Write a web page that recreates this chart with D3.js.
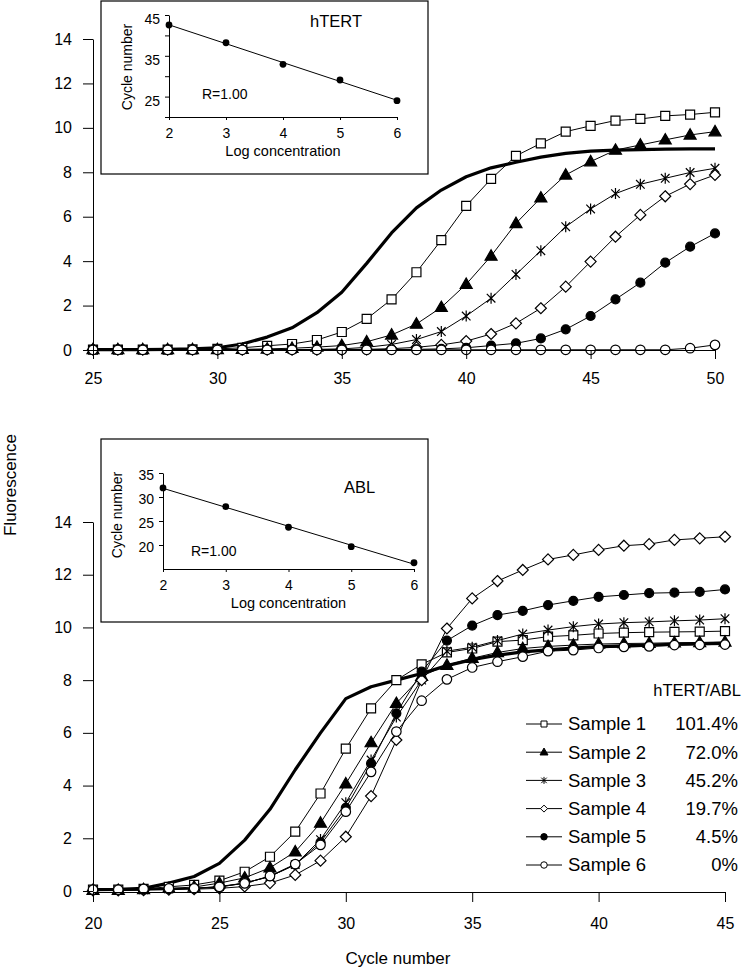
<!DOCTYPE html>
<html><head><meta charset="utf-8">
<script src="https://cdn.jsdelivr.net/npm/d3@7"></script>
<style>
body{margin:0;background:#fff}
svg{display:block}
text{font-family:"Liberation Sans",Arial,Helvetica,sans-serif;fill:#000}
</style>
</head><body>
<svg id="chart" width="744" height="969"></svg>
<script>
// ---------------- DATA ----------------
const topCycles = [25,26,27,28,29,30,31,32,33,34,35,36,37,38,39,40,41,42,43,44,45,46,47,48,49,50];
const botCycles = [20,21,22,23,24,25,26,27,28,29,30,31,32,33,34,35,36,37,38,39,40,41,42,43,44,45];

// hTERT panel
const hTERTcontrol = [0.02,0.02,0.02,0.03,0.05,0.1,0.27,0.58,1.0,1.68,2.6,3.9,5.27,6.4,7.2,7.8,8.2,8.45,8.68,8.85,8.95,9.0,9.02,9.04,9.05,9.05];
const hTERTs1 = [0.02,0.02,0.02,0.02,0.03,0.05,0.1,0.19,0.27,0.45,0.81,1.4,2.28,3.5,4.95,6.49,7.7,8.74,9.3,9.83,10.09,10.33,10.4,10.54,10.6,10.7];
const hTERTs2 = [0.02,0.02,0.02,0.02,0.02,0.02,0.03,0.05,0.08,0.13,0.2,0.37,0.68,1.17,1.92,2.96,4.23,5.7,6.85,7.88,8.48,9.0,9.23,9.46,9.68,9.83];
const hTERTs3 = [0.02,0.02,0.02,0.02,0.02,0.02,0.02,0.02,0.02,0.03,0.05,0.12,0.25,0.47,0.83,1.53,2.33,3.4,4.47,5.55,6.35,7.04,7.46,7.73,7.99,8.18];
const hTERTs4 = [0.02,0.02,0.02,0.02,0.02,0.02,0.02,0.02,0.02,0.02,0.02,0.03,0.06,0.12,0.23,0.4,0.72,1.2,1.88,2.85,3.98,5.1,6.08,6.92,7.47,7.88];
const hTERTs5 = [0.02,0.02,0.02,0.02,0.02,0.02,0.02,0.02,0.02,0.02,0.02,0.02,0.02,0.03,0.05,0.1,0.2,0.3,0.52,0.93,1.53,2.28,3.03,3.93,4.65,5.25];
const hTERTs6 = [0.01,0.01,0.01,0.01,0.01,0.01,0.01,0.01,0.01,0.01,0.01,0.01,0.01,0.01,0.01,0.01,0.01,0.01,0.01,0.01,0.01,0.01,0.01,0.01,0.08,0.23];

// ABL panel
const ABLcontrol = [0.05,0.06,0.1,0.3,0.55,1.05,1.93,3.1,4.6,6.0,7.3,7.75,8.0,8.25,8.55,8.78,8.95,9.07,9.15,9.22,9.27,9.3,9.33,9.36,9.38,9.4];
const ABLs1 = [0.05,0.05,0.08,0.16,0.23,0.39,0.73,1.3,2.25,3.7,5.4,6.93,8.0,8.6,9.05,9.2,9.46,9.52,9.65,9.7,9.77,9.8,9.82,9.83,9.84,9.86];
const ABLs2 = [0.03,0.03,0.06,0.1,0.15,0.3,0.5,0.88,1.49,2.58,4.07,5.63,7.12,8.15,8.57,8.83,9.05,9.2,9.28,9.33,9.37,9.39,9.4,9.42,9.43,9.45];
const ABLs3 = [0.03,0.03,0.05,0.07,0.1,0.17,0.3,0.55,1.0,1.95,3.35,4.97,6.6,8.0,9.1,9.25,9.5,9.75,9.9,10.03,10.13,10.18,10.21,10.25,10.28,10.33];
const ABLs4 = [0.02,0.02,0.03,0.05,0.07,0.1,0.17,0.3,0.61,1.15,2.06,3.6,5.73,8.0,9.96,11.1,11.76,12.18,12.58,12.75,12.94,13.1,13.16,13.32,13.38,13.44];
const ABLs5 = [0.03,0.03,0.05,0.07,0.1,0.15,0.3,0.55,1.0,1.85,3.15,4.84,6.74,8.32,9.5,10.07,10.47,10.63,10.85,11.01,11.16,11.23,11.3,11.32,11.35,11.44];
const ABLs6 = [0.05,0.05,0.08,0.1,0.1,0.16,0.29,0.57,1.02,1.75,3.01,4.52,6.05,7.22,8.03,8.48,8.7,8.89,9.1,9.14,9.22,9.26,9.28,9.33,9.34,9.35];

// Standard curves (insets)
const logConc = [2,3,4,5,6];
const hTERTct = [42.55,38.2,32.9,29.07,24.0];
const ABLct = [31.9,27.98,23.7,19.65,16.3];

// Ticks and labels
const fluorTicks = [0,2,4,6,8,10,12,14];
const topXTicks = [25,30,35,40,45,50];
const botXTicks = [20,25,30,35,40,45];
const insetTopYTicks = [20,25,30,35,40,45];
const insetTopYLabels = [25,35,45];
const insetBotYTicks = [20,25,30,35];
const sampleNames = ["Sample 1","Sample 2","Sample 3","Sample 4","Sample 5","Sample 6"];
const ratios = ["101.4%","72.0%","45.2%","19.7%","4.5%","0%"];

// ---------------- DRAWING ----------------
const svg = d3.select("#chart");
const markerTypes = ["square","triangle","asterisk","diamond","dot","circle"];
const markerFill = {square:"#fff",triangle:"#000",asterisk:"none",diamond:"#fff",dot:"#000",circle:"#fff"};
const markerSize = {square:9,triangle:12,asterisk:11,diamond:11,dot:9,circle:9.5};

function markerPath(type, s){
  const r = s/2;
  switch(type){
    case "square": return `M${-r},${-r}h${s}v${s}h${-s}Z`;
    case "triangle": { const h = s*Math.sqrt(3)/2; return `M0,${-h*0.6}L${r},${h*0.4}L${-r},${h*0.4}Z`; }
    case "asterisk": { const d = r*0.78; return `M0,${-r}V${r}M${-d},${-d}L${d},${d}M${-d},${d}L${d},${-d}`; }
    case "diamond": return `M0,${-r}L${r},0L0,${r}L${-r},0Z`;
    default: return `M${r},0A${r},${r} 0 1,1 ${-r},0A${r},${r} 0 1,1 ${r},0Z`;
  }
}

function drawPanel(cycles, control, samples, x, y){
  const g = svg.append("g");
  const line = d3.line().x((d,i)=>x(cycles[i])).y(d=>y(d));
  g.append("path").datum(control).attr("d", line)
    .attr("fill","none").attr("stroke","#000").attr("stroke-width",3.2).attr("stroke-linejoin","round");
  samples.forEach((vals, k) => {
    const t = markerTypes[k];
    g.append("path").datum(vals).attr("d", line)
      .attr("fill","none").attr("stroke","#000").attr("stroke-width",1);
    g.selectAll(null).data(vals).enter().append("path")
      .attr("transform",(d,i)=>`translate(${x(cycles[i])},${y(d)})`)
      .attr("d", markerPath(t, markerSize[t]))
      .attr("fill", markerFill[t]).attr("stroke","#000").attr("stroke-width",1.2);
  });
}

function styleAxis(sel, fontSize){
  sel.selectAll("path,line").attr("stroke","#000").attr("stroke-width",1);
  sel.selectAll("text").style("font-size",fontSize+"px").attr("fill","#000");
}

// ---------- Top panel (hTERT) ----------
const xTop = d3.scaleLinear().domain([25,50]).range([93,715]);
const yTop = d3.scaleLinear().domain([0,14]).range([350,39]);

drawPanel(topCycles, hTERTcontrol, [hTERTs1,hTERTs2,hTERTs3,hTERTs4,hTERTs5,hTERTs6], xTop, yTop);

const axTopY = svg.append("g").attr("transform","translate(93,0)")
  .call(d3.axisLeft(yTop).tickValues(fluorTicks).tickSize(10).tickSizeOuter(0).tickPadding(11));
styleAxis(axTopY, 16);
const axTopX = svg.append("g").attr("transform","translate(0,350)")
  .call(d3.axisBottom(xTop).tickValues(topXTicks).tickSize(9).tickSizeOuter(0));
styleAxis(axTopX, 16);
axTopX.selectAll("text").attr("y",28).attr("dy","0.35em");

// ---------- Bottom panel (ABL) ----------
const xBot = d3.scaleLinear().domain([20,45]).range([93,725]);
const yBot = d3.scaleLinear().domain([0,14]).range([891,522]);

drawPanel(botCycles, ABLcontrol, [ABLs1,ABLs2,ABLs3,ABLs4,ABLs5,ABLs6], xBot, yBot);

const axBotY = svg.append("g").attr("transform","translate(93,0)")
  .call(d3.axisLeft(yBot).tickValues(fluorTicks).tickSize(10).tickSizeOuter(0).tickPadding(11));
styleAxis(axBotY, 16);
const axBotX = svg.append("g").attr("transform","translate(0,892)")
  .call(d3.axisBottom(xBot).tickValues(botXTicks).tickSize(10).tickSizeOuter(0));
styleAxis(axBotX, 16);
axBotX.selectAll("text").attr("y",31).attr("dy","0.35em");

// Axis titles
svg.append("text").attr("transform","translate(10,485) rotate(-90)")
  .attr("text-anchor","middle").attr("dy","0.35em").style("font-size","17px").text("Fluorescence");
svg.append("text").attr("x",398).attr("y",958).attr("dy","0.35em")
  .attr("text-anchor","middle").style("font-size","17px").text("Cycle number");

// ---------- Insets ----------
function drawInset(opts){
  const g = svg.append("g");
  g.append("rect").attr("x",opts.box[0]).attr("y",opts.box[1])
    .attr("width",opts.box[2]-opts.box[0]).attr("height",opts.box[3]-opts.box[1])
    .attr("fill","#fff").attr("stroke","#000").attr("stroke-width",1.2);
  const x = d3.scaleLinear().domain([2,6]).range(opts.xr);
  const y = d3.scaleLinear().domain(opts.yd).range(opts.yr);
  const ay = g.append("g").attr("transform",`translate(${opts.xr[0]},0)`)
    .call(d3.axisLeft(y).tickValues(opts.yTicks).tickSize(4).tickSizeOuter(0).tickPadding(5)
      .tickFormat(d => opts.yLabels.includes(d) ? d : ""));
  styleAxis(ay, 14);
  ay.selectAll("text").attr("dy", opts.yLabelDy);
  const ax = g.append("g").attr("transform",`translate(0,${opts.yr[0]})`)
    .call(d3.axisBottom(x).tickValues(logConc).tickSize(3).tickSizeOuter(0).tickFormat(d3.format("d")));
  styleAxis(ax, 14);
  ax.selectAll("text").attr("y",16).attr("dy","0.35em");
  // regression line from data
  const mx = d3.mean(logConc), my = d3.mean(opts.vals);
  const slope = d3.sum(logConc,(v,i)=>(v-mx)*(opts.vals[i]-my)) / d3.sum(logConc,v=>(v-mx)*(v-mx));
  const fit = v => my + slope*(v-mx);
  g.append("line").attr("x1",x(2)).attr("y1",y(fit(2))).attr("x2",x(6)).attr("y2",y(fit(6)))
    .attr("stroke","#000").attr("stroke-width",1);
  g.selectAll(null).data(opts.vals).enter().append("circle")
    .attr("cx",(d,i)=>x(logConc[i])).attr("cy",d=>y(d)).attr("r",3.4).attr("fill","#000");
  g.append("text").attr("transform",`translate(${opts.ylabX},${(opts.yr[0]+opts.yr[1])/2 + opts.ylabShift}) rotate(-90)`)
    .attr("text-anchor","middle").attr("dy","0.35em").style("font-size","14px").text("Cycle number");
  g.append("text").attr("x",(opts.xr[0]+opts.xr[1])/2).attr("y",opts.xlabY).attr("dy","0.35em")
    .attr("text-anchor","middle").style("font-size","14.5px").text("Log concentration");
  g.append("text").attr("x",opts.rX).attr("y",opts.rY).attr("dy","0.35em")
    .style("font-size","14px").text("R=1.00");
  g.append("text").attr("x",opts.nameX).attr("y",opts.nameY).attr("dy","0.35em")
    .style("font-size","16.5px").text(opts.name);
}

drawInset({box:[101,1,428,174], xr:[169,397], yd:[20,45], yr:[117,15],
  yTicks:insetTopYTicks, yLabels:insetTopYLabels, yLabelDy:"0.62em", vals:hTERTct,
  ylabX:127, ylabShift:1, xlabY:151, rX:202, rY:94, name:"hTERT", nameX:310, nameY:21});

drawInset({box:[101,439,428,622], xr:[163,414], yd:[15,35], yr:[569,473],
  yTicks:insetBotYTicks, yLabels:insetBotYTicks, yLabelDy:"0.45em", vals:ABLct,
  ylabX:117, ylabShift:-6, xlabY:603, rX:191, rY:551, name:"ABL", nameX:344, nameY:487});

// ---------- Legend ----------
const lg = svg.append("g");
lg.append("text").attr("x",741).attr("y",690).attr("dy","0.35em").attr("text-anchor","end")
  .style("font-size","16.5px").text("hTERT/ABL");
const legSize = {square:6,triangle:8,asterisk:7,diamond:7,dot:6.5,circle:6.5};
sampleNames.forEach((name,k) => {
  const yy = 724 + k*28.2;
  const t = markerTypes[k];
  lg.append("line").attr("x1",526).attr("x2",562).attr("y1",yy).attr("y2",yy)
    .attr("stroke","#000").attr("stroke-width",1);
  lg.append("path").attr("transform",`translate(544,${yy})`).attr("d",markerPath(t,legSize[t]))
    .attr("fill",markerFill[t]).attr("stroke","#000").attr("stroke-width",1);
  lg.append("text").attr("x",568).attr("y",yy).attr("dy","0.35em").style("font-size","18.5px").text(name);
  lg.append("text").attr("x",738).attr("y",yy).attr("dy","0.35em").attr("text-anchor","end")
    .style("font-size","18.5px").text(ratios[k]);
});
</script>
</body></html>
